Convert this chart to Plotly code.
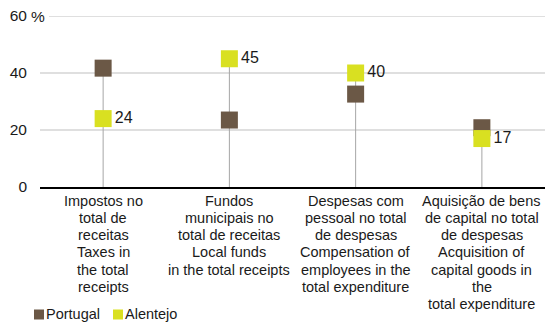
import plotly.graph_objects as go

# Indicator labels (Portuguese / English)
categories = [
    ["Impostos no", "total de", "receitas", "Taxes in", "the total", "receipts"],
    ["Fundos", "municipais no", "total de receitas", "Local funds", "in the total receipts"],
    ["Despesas com", "pessoal no total", "de despesas", "Compensation of", "employees in the", "total expenditure"],
    ["Aquisição de bens", "de capital no total", "de despesas", "Acquisition of", "capital goods in", "the", "total expenditure"],
]
portugal = [41.7, 23.5, 32.6, 20.8]
alentejo = [24, 45, 40, 17]
y_ticks = [0, 20, 40, 60]

C_PT = "#6b5846"
C_AL = "#d9e021"
FONT = "Liberation Sans, Arial, sans-serif"

x = list(range(len(categories)))

# vertical drop lines from the higher of the two values to zero
lx, ly = [], []
for i in x:
    lx += [i, i, None]
    ly += [max(portugal[i], alentejo[i]), 0, None]

fig = go.Figure()
fig.add_trace(go.Scatter(x=lx, y=ly, mode="lines",
                         line=dict(color="#a6a6a6", width=1),
                         hoverinfo="skip", showlegend=False))
fig.add_trace(go.Scatter(x=x, y=portugal, mode="markers", name="Portugal",
                         marker=dict(symbol="square", size=17, color=C_PT),
                         showlegend=False))
fig.add_trace(go.Scatter(x=x, y=alentejo, mode="markers+text", name="Alentejo",
                         marker=dict(symbol="square", size=17, color=C_AL),
                         text=[f"{v:g}" for v in alentejo],
                         textposition="middle right",
                         textfont=dict(size=16, color="#1a1a1a", family=FONT),
                         showlegend=False))

# horizontal gridlines
shapes = []
for t in y_ticks[1:]:
    shapes.append(dict(type="line", xref="paper", yref="y",
                       x0=(9 / 505) if t == 60 else 0, x1=1, y0=t, y1=t,
                       line=dict(color="#bfbfbf", width=1), layer="below"))

annotations = []
# multi-line category labels
for i, lines in enumerate(categories):
    for k, txt in enumerate(lines):
        annotations.append(dict(x=i, y=0, xref="x", yref="paper", text=txt,
                                showarrow=False, xanchor="center", yanchor="middle",
                                yshift=-13.5 - 17.3 * k,
                                font=dict(size=14.5, color="#1a1a1a", family=FONT)))
# percent sign next to the top tick
annotations.append(dict(x=0, y=60, xref="paper", yref="y", text="%", showarrow=False,
                        xanchor="left", yanchor="middle", xshift=-11,
                        font=dict(size=15.5, color="#1a1a1a", family=FONT)))
# legend: coloured square key followed by the series name (offsets in px from plot origin)
for name, col, px in [("Portugal", C_PT, -6), ("Alentejo", C_AL, 73)]:
    shapes.append(dict(type="rect", xref="paper", yref="paper",
                       xsizemode="pixel", ysizemode="pixel", xanchor=0, yanchor=0,
                       x0=px, x1=px + 10, y0=-132.5, y1=-122.5,
                       line=dict(width=0), fillcolor=col))
    annotations.append(dict(x=0, y=0, xref="paper", yref="paper",
                            text=name, showarrow=False, xanchor="left", yanchor="middle",
                            yshift=-126.5, xshift=px + 10,
                            font=dict(size=14.5, color="#1a1a1a", family=FONT)))

fig.update_layout(
    width=545, height=322,
    margin=dict(l=40, r=0, t=16, b=135),
    paper_bgcolor="white", plot_bgcolor="white",
    shapes=shapes, annotations=annotations,
    xaxis=dict(range=[-0.5, len(categories) - 0.5], showticklabels=False,
               showgrid=False, zeroline=False, showline=True,
               linecolor="#000000", linewidth=1.5, fixedrange=True),
    yaxis=dict(range=[0, 60], tickvals=y_ticks, ticktext=[str(t) for t in y_ticks],
               showgrid=False, zeroline=False, ticks="", ticklabelstandoff=12,
               tickfont=dict(size=15.5, color="#1a1a1a", family=FONT), fixedrange=True),
    showlegend=False,
)

fig.write_html("out.html")
